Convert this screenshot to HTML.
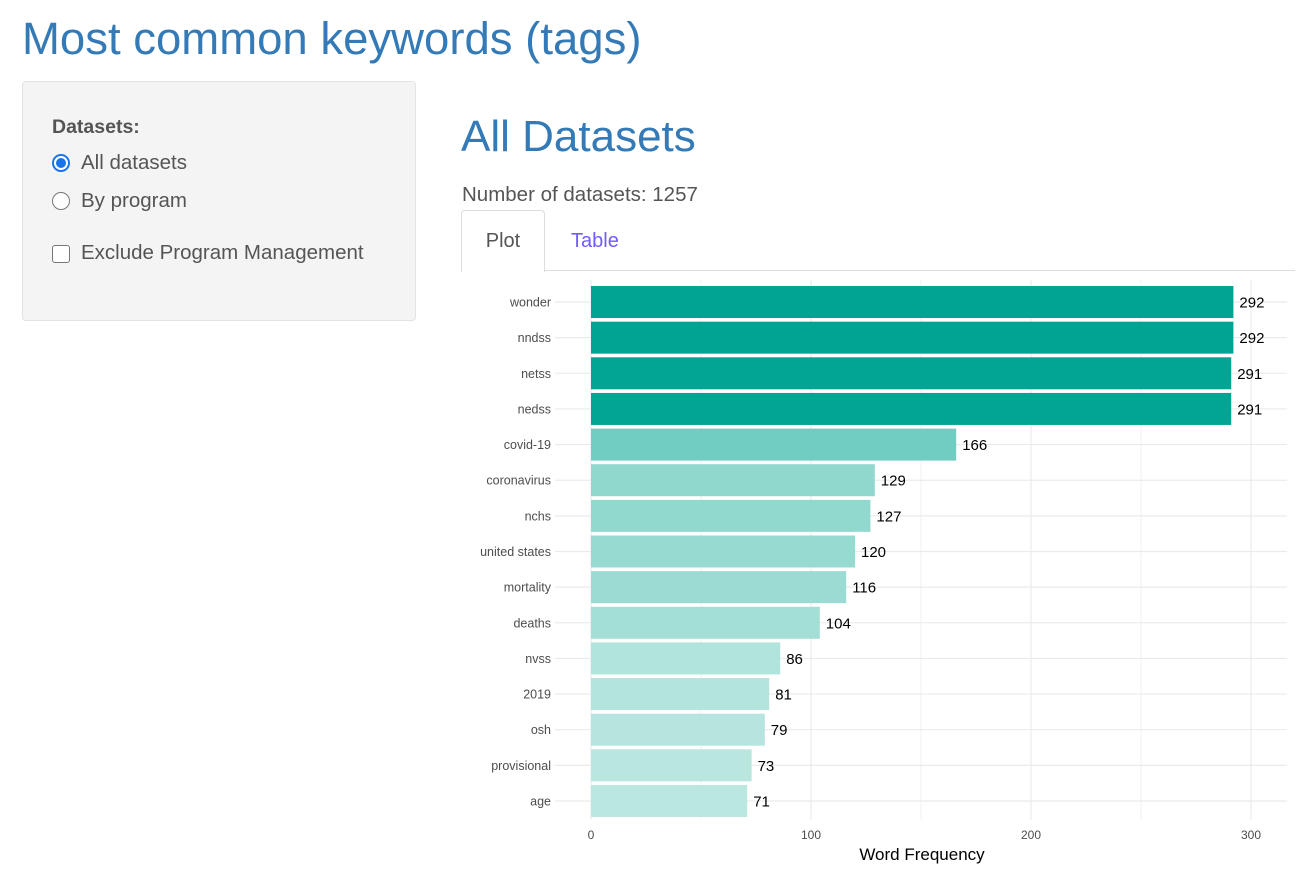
<!DOCTYPE html>
<html><head><meta charset="utf-8">
<style>
body{margin:0;width:1308px;height:871px;background:#fff;font-family:"Liberation Sans",Arial,sans-serif;overflow:hidden;position:relative;color:#333}
.abs{position:absolute}
h1{position:absolute;left:22px;top:13px;margin:0;font-size:45.5px;font-weight:normal;color:#337ab7}
.side{left:22px;top:81px;width:392px;height:238px;background:#f4f4f4;border:1px solid #e3e3e3;border-radius:4px}
.lbl{font-size:20.5px;color:#555}
</style></head><body>
<h1>Most common keywords (tags)</h1>
<div class="abs side">
 <div class="abs" style="left:29px;top:34px;font-size:19.5px;font-weight:bold;color:#555">Datasets:</div>
 <div class="abs" style="left:29px;top:72px;width:18px;height:18px;border-radius:50%;background:#fff;border:2px solid #1a73e8;box-sizing:border-box"><div style="position:absolute;left:2px;top:2px;width:10px;height:10px;border-radius:50%;background:#1a73e8"></div></div>
 <div class="abs lbl" style="left:58px;top:69px">All datasets</div>
 <div class="abs" style="left:29px;top:110px;width:18px;height:18px;border-radius:50%;background:#fff;border:1px solid #777;box-sizing:border-box"></div>
 <div class="abs lbl" style="left:58px;top:107px">By program</div>
 <div class="abs" style="left:29px;top:163px;width:18px;height:18px;border-radius:3px;background:#fff;border:1px solid #777;box-sizing:border-box"></div>
 <div class="abs lbl" style="left:58px;top:159px">Exclude Program Management</div>
</div>
<div class="abs" style="left:461px;top:112px;font-size:44px;color:#337ab7">All Datasets</div>
<div class="abs" style="left:462px;top:183px;font-size:20.5px;color:#555">Number of datasets: 1257</div>
<div class="abs" style="left:461px;top:270px;width:834px;height:1px;background:#ddd"></div>
<div class="abs" style="left:461px;top:210px;width:82px;height:61px;background:#fff;border:1px solid #ddd;border-bottom:none;border-radius:4px 4px 0 0;font-size:20px;color:#555;text-align:center;line-height:60px">Plot</div>
<div class="abs" style="left:571px;top:230px;font-size:20px;color:#6f5bff">Table</div>
<svg class="abs" style="left:0;top:0" width="1308" height="871" id="chart"></svg>
<script>
const categories=["wonder","nndss","netss","nedss","covid-19","coronavirus","nchs","united states","mortality","deaths","nvss","2019","osh","provisional","age"];
const values=[292,292,291,291,166,129,127,120,116,104,86,81,79,73,71];
const xTicks=[0,100,200,300];
const NS="http://www.w3.org/2000/svg";
const svg=document.getElementById('chart');
const x0=591,pxPer=2.2,yTop=284.2,step=35.64;
const X=v=>x0+v*pxPer;
const Y=i=>yTop+step*i+step/2;
function mk(t,a,txt){const e=document.createElementNS(NS,t);for(const k in a)e.setAttribute(k,a[k]);if(txt!==undefined)e.textContent=txt;svg.appendChild(e);return e;}
const pTop=280,pBot=820;
for(let v=50;v<320;v+=100){const g=mk('line',{x1:X(v),x2:X(v),y1:pTop,y2:pBot,stroke:'#f2f2f2','stroke-width':1});

}
xTicks.forEach(v=>{const g=mk('line',{x1:X(v),x2:X(v),y1:pTop,y2:pBot,stroke:'#ebebeb','stroke-width':1.2});


const t=mk('text',{x:X(v),y:839,'text-anchor':'middle','font-size':12,fill:'#4d4d4d'},v);

});
const mn=Math.min(...values),mx=Math.max(...values);
const lo=[186,231,224],hi=[1,164,147];
function col(v){const t=Math.pow((v-mn)/(mx-mn),1.1);return 'rgb('+lo.map((c,k)=>Math.round(c+(hi[k]-c)*t)).join(',')+')';}
categories.forEach((c,i)=>{const y=Y(i);
const g=mk('line',{x1:555,x2:1287,y1:y,y2:y,stroke:'#ebebeb','stroke-width':1.2});


const l=mk('text',{x:551,y:y+4.5,'text-anchor':'end','font-size':12.5,fill:'#4d4d4d'},c);


const r=mk('rect',{x:X(0),y:y-16,width:X(values[i])-X(0),height:32,fill:col(values[i])});


const vt=mk('text',{x:X(values[i])+6,y:y+5.5,'font-size':15,fill:'#000'},values[i]);

});
const xt=mk('text',{x:922,y:860,'text-anchor':'middle','font-size':17,fill:'#000'},'Word Frequency');


</script>
</body></html>
